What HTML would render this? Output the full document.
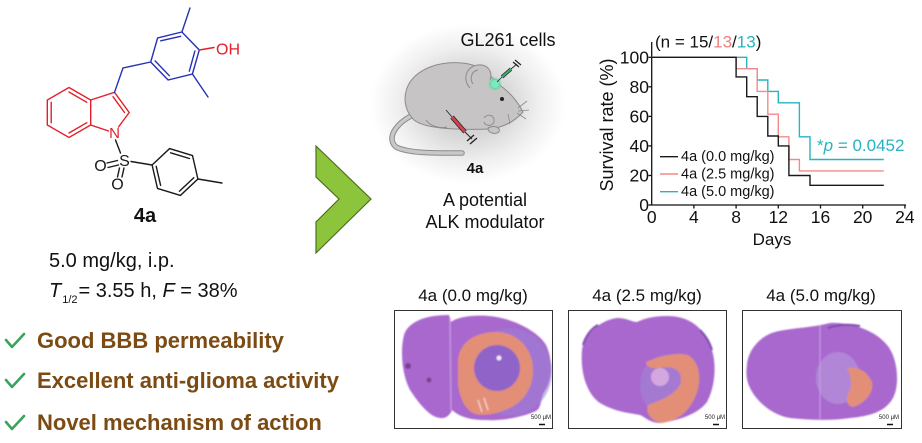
<!DOCTYPE html>
<html>
<head>
<meta charset="utf-8">
<style>
html,body{margin:0;padding:0;background:#fff;}
body{width:922px;height:443px;overflow:hidden;}
svg{display:block;}
text{font-family:"Liberation Sans",Arial,sans-serif;}
</style>
</head>
<body>
<svg width="922" height="443" viewBox="0 0 922 443" xmlns="http://www.w3.org/2000/svg">
<defs>
  <radialGradient id="glow" cx="50%" cy="50%" r="50%">
    <stop offset="0%" stop-color="#c4c4c4"/>
    <stop offset="40%" stop-color="#d6d6d6"/>
    <stop offset="72%" stop-color="#efefef"/>
    <stop offset="100%" stop-color="#ffffff"/>
  </radialGradient>
  <radialGradient id="gdot" cx="50%" cy="50%" r="50%">
    <stop offset="0%" stop-color="#c8ffe8"/>
    <stop offset="60%" stop-color="#5fd8a6"/>
    <stop offset="100%" stop-color="#5fd8a6" stop-opacity="0"/>
  </radialGradient>
  <filter id="soft" x="-10%" y="-10%" width="120%" height="120%">
    <feGaussianBlur stdDeviation="0.8"/>
  </filter>
</defs>

<!-- ================= Chemical structure ================= -->
<g stroke-width="1.4" stroke-linecap="round" fill="none">
  <g stroke="#E3202A">
    <polyline points="69,87.5 47.3,100 47.3,125 69,137.5 90.7,125 90.7,100 69,87.5"/>
    <line x1="51.2" y1="102.3" x2="51.2" y2="122.7"/>
    <line x1="86.8" y1="102.3" x2="69" y2="92"/>
    <line x1="69" y1="133" x2="86.8" y2="122.7"/>
    <polyline points="90.7,100 114.5,92.3 129.2,112.5 118.5,127"/>
    <line x1="90.7" y1="125" x2="108.5" y2="131"/>
    <line x1="113" y1="96.7" x2="124.5" y2="112.5"/>
  </g>
  <g stroke="#2632B4">
    <polyline points="114.5,92.3 123,68 150.7,62"/>
    <polygon points="150.7,62 157.6,38 181.9,32 199.3,50 192.4,74 168.1,80"/>
    <line x1="160.7" y1="40.8" x2="180.7" y2="36.3"/>
    <line x1="194.9" y1="51.1" x2="189.3" y2="71.2"/>
    <line x1="169.3" y1="75.7" x2="155.1" y2="60.9"/>
    <line x1="181.9" y1="32" x2="190" y2="8"/>
    <line x1="192.4" y1="74" x2="208" y2="97"/>
  </g>
  <line x1="199.3" y1="50" x2="214" y2="47.5" stroke="#E3202A"/>
  <g stroke="#1a1a1a">
    <line x1="115.5" y1="140" x2="120.5" y2="153"/>
    <line x1="107" y1="163" x2="117.5" y2="160.5"/>
    <line x1="108" y1="167.5" x2="118.5" y2="165"/>
    <line x1="119.5" y1="168" x2="117.5" y2="177"/>
    <line x1="124" y1="168" x2="122" y2="177"/>
    <line x1="131" y1="161.5" x2="152.1" y2="165"/>
    <polygon points="152.1,165 169.6,148.6 192.5,155.6 197.9,179 180.4,195.4 157.5,188.4"/>
    <line x1="170.6" y1="152.8" x2="189.4" y2="158.5"/>
    <line x1="193.8" y1="177.7" x2="179.4" y2="191.2"/>
    <line x1="160.6" y1="185.4" x2="156.2" y2="166.3"/>
    <line x1="197.9" y1="179" x2="222" y2="183"/>
  </g>
</g>
<text x="114.5" y="138" font-size="15" fill="#E3202A" text-anchor="middle">N</text>
<text x="216" y="54.5" font-size="16" fill="#E3202A">OH</text>
<text x="124.5" y="166" font-size="16" fill="#1a1a1a" text-anchor="middle">S</text>
<text x="100.5" y="171" font-size="16" fill="#1a1a1a" text-anchor="middle">O</text>
<text x="117.5" y="189.5" font-size="16" fill="#1a1a1a" text-anchor="middle">O</text>
<text x="145" y="222" font-size="20" font-weight="bold" fill="#111" text-anchor="middle">4a</text>

<!-- PK text -->
<text x="49" y="267" font-size="20" fill="#111">5.0 mg/kg, i.p.</text>
<text x="49" y="297" font-size="20" fill="#111"><tspan font-style="italic">T</tspan><tspan font-size="11" dy="6" dx="1">1/2</tspan><tspan dy="-6" dx="1">= 3.55 h, </tspan><tspan font-style="italic">F</tspan><tspan> = 38%</tspan></text>

<!-- bullets -->
<g stroke="#3AA35E" stroke-width="2.6" fill="none" stroke-linecap="round" stroke-linejoin="round">
  <polyline points="6,340 12,347 24,334"/>
  <polyline points="6,380 12,387 24,374"/>
  <polyline points="6,422 12,429 24,416"/>
</g>
<g font-size="22" font-weight="bold" fill="#7B4B13">
  <text x="37" y="348">Good BBB permeability</text>
  <text x="37" y="388">Excellent anti-glioma activity</text>
  <text x="37" y="430">Novel mechanism of action</text>
</g>

<!-- chevron -->
<polygon points="316,146 371,199 316,253 316,222 339,199 316,177" fill="#8CC43C" stroke="#4E6E1C" stroke-width="1.2"/>

<!-- ================= Mouse ================= -->
<ellipse cx="468" cy="104" rx="98" ry="80" fill="url(#glow)"/>
<text x="508" y="46" font-size="18" fill="#111" text-anchor="middle">GL261 cells</text>
<g stroke="#8c8a8a" stroke-width="1" stroke-linejoin="round">
  <path d="M411,116 C396,124 386,138 396,147 C410,154 440,153 462,153" fill="none" stroke="#8c8a8a" stroke-width="5.5" stroke-linecap="round"/>
  <path d="M411,116 C396,124 386,138 396,147 C410,154 440,153 462,153" fill="none" stroke="#c9c7c7" stroke-width="3.5" stroke-linecap="round"/>
  <path d="M523,112 C518,102 510,92 498,84 C490,74 478,64 462,63 C440,61 420,68 410,82 C402,95 404,110 414,120 C425,129 460,130 490,129 C505,127 516,120 523,112 Z" fill="#c6c4c4"/>
  <path d="M470,88 C462,80 466,66 478,65 C488,64 493,72 490,80" fill="#c6c4c4"/>
  <path d="M473,84 C469,78 472,71 478,70" fill="none"/>
  <path d="M426,120 C430,126 440,129 447,127" fill="none"/>
  <path d="M484,118 C488,113 495,115 494,122 C492,127 485,126 484,122" fill="#c6c4c4"/>
  <path d="M488,128 C494,125 501,127 499,132 C495,135 488,133 488,128" fill="#c6c4c4"/>
</g>
<g stroke="#8c8a8a" stroke-width="0.8">
  <line x1="518" y1="108" x2="527" y2="101"/>
  <line x1="518" y1="111" x2="529" y2="110"/>
  <line x1="517" y1="113" x2="526" y2="119"/>
  <line x1="508" y1="114" x2="510" y2="124"/>
</g>
<circle cx="502" cy="99" r="2" fill="#222"/>
<circle cx="495" cy="84" r="7" fill="url(#gdot)"/>
<circle cx="495" cy="84" r="4" fill="#7fe6bd"/>
<line x1="497" y1="82" x2="503" y2="76" stroke="#222" stroke-width="0.8"/>
<line x1="502" y1="77" x2="511" y2="69" stroke="#222" stroke-width="3.6"/>
<line x1="502" y1="77" x2="511" y2="69" stroke="#3DAA72" stroke-width="2.2"/>
<line x1="511" y1="69" x2="517" y2="64" stroke="#222" stroke-width="0.9"/>
<line x1="513" y1="62" x2="519" y2="67" stroke="#222" stroke-width="1.2"/>
<line x1="515" y1="60" x2="521" y2="65" stroke="#222" stroke-width="1.2"/>
<line x1="446" y1="110" x2="452" y2="117" stroke="#222" stroke-width="0.8"/>
<line x1="452" y1="117" x2="465" y2="132" stroke="#222" stroke-width="4.4"/>
<line x1="452" y1="117" x2="465" y2="132" stroke="#D0404F" stroke-width="3"/>
<line x1="465" y1="132" x2="472" y2="139" stroke="#222" stroke-width="1"/>
<line x1="467" y1="141" x2="474" y2="135" stroke="#222" stroke-width="1.3"/>
<line x1="470" y1="144" x2="477" y2="138" stroke="#222" stroke-width="1.3"/>
<text x="475" y="173" font-size="15" font-weight="bold" fill="#111" text-anchor="middle">4a</text>
<text x="485" y="206" font-size="18" fill="#111" text-anchor="middle">A potential</text>
<text x="485" y="228" font-size="18" fill="#111" text-anchor="middle">ALK modulator</text>

<!-- ================= Survival chart ================= -->
<g stroke="#111" stroke-width="1.3" fill="none">
  <line x1="651.7" y1="42" x2="651.7" y2="205"/>
  <line x1="651.7" y1="205" x2="906" y2="205"/>
  <line x1="648.5" y1="57.3" x2="651.7" y2="57.3"/>
  <line x1="648.5" y1="86.8" x2="651.7" y2="86.8"/>
  <line x1="648.5" y1="116.4" x2="651.7" y2="116.4"/>
  <line x1="648.5" y1="145.9" x2="651.7" y2="145.9"/>
  <line x1="648.5" y1="175.5" x2="651.7" y2="175.5"/>
  <line x1="648.5" y1="205" x2="651.7" y2="205"/>
  <line x1="693.9" y1="205" x2="693.9" y2="208.5"/>
  <line x1="736.1" y1="205" x2="736.1" y2="208.5"/>
  <line x1="778.3" y1="205" x2="778.3" y2="208.5"/>
  <line x1="820.5" y1="205" x2="820.5" y2="208.5"/>
  <line x1="862.7" y1="205" x2="862.7" y2="208.5"/>
  <line x1="904.9" y1="205" x2="904.9" y2="208.5"/>
</g>
<g font-size="17.5" fill="#111" text-anchor="end">
  <text x="649" y="63.5">100</text>
  <text x="649" y="93">80</text>
  <text x="649" y="122.6">60</text>
  <text x="649" y="152.1">40</text>
  <text x="649" y="181.7">20</text>
  <text x="649" y="211.2">0</text>
</g>
<g font-size="17.5" fill="#111" text-anchor="middle">
  <text x="651.7" y="223">0</text>
  <text x="693.9" y="223">4</text>
  <text x="736.1" y="223">8</text>
  <text x="778.3" y="223">12</text>
  <text x="820.5" y="223">16</text>
  <text x="862.7" y="223">20</text>
  <text x="904.9" y="223">24</text>
</g>
<text x="772" y="245" font-size="17" fill="#111" text-anchor="middle">Days</text>
<text transform="translate(613,125) rotate(-90)" font-size="18" fill="#111" text-anchor="middle">Survival rate (%)</text>
<text x="655" y="47.5" font-size="17" fill="#111">(n = 15/<tspan fill="#F08080">13</tspan>/<tspan fill="#27B3BF">13</tspan>)</text>
<text x="817" y="151" font-size="17" fill="#27B3BF">*<tspan font-style="italic">p</tspan> = 0.0452</text>

<g fill="none" stroke-width="1.4">
  <path d="M651.7,57.3 H746.7 V68.7 H757.2 V80 H767.8 V91.4 H778.3 V102.8 H799.4 V136.8 H810 V159.5 H883.8" stroke="#27B3BF"/>
  <path d="M651.7,57.3 H736.1 V68.7 H757.2 V91.4 H767.8 V114.2 H778.3 V136.8 H788.9 V159.5 H799.4 V170.9 H883.8" stroke="#F28A8A"/>
  <path d="M651.7,57.3 H736.1 V76.9 H746.7 V96.7 H757.2 V116.4 H767.8 V136 H778.3 V145.9 H788.9 V175.5 H810 V185.3 H883.8" stroke="#1a1a1a"/>
</g>
<line x1="660" y1="156.7" x2="678" y2="156.7" stroke="#1a1a1a" stroke-width="1.4"/>
<line x1="660" y1="174" x2="678" y2="174" stroke="#F28A8A" stroke-width="1.4"/>
<line x1="660" y1="191.7" x2="678" y2="191.7" stroke="#27B3BF" stroke-width="1.4"/>
<g font-size="14.5" fill="#111">
  <text x="681" y="161.2">4a (0.0 mg/kg)</text>
  <text x="681" y="178.5">4a (2.5 mg/kg)</text>
  <text x="681" y="196.2">4a (5.0 mg/kg)</text>
</g>

<!-- ================= Brain sections ================= -->
<g font-size="17" fill="#111" text-anchor="middle">
  <text x="473" y="301">4a (0.0 mg/kg)</text>
  <text x="647" y="301">4a (2.5 mg/kg)</text>
  <text x="821" y="301">4a (5.0 mg/kg)</text>
</g>
<g fill="#fff" stroke="#333" stroke-width="1">
  <rect x="394.5" y="310.5" width="158" height="118"/>
  <rect x="568.5" y="310.5" width="158" height="118"/>
  <rect x="742.5" y="310.5" width="159" height="118"/>
</g>

<!-- brain 1 -->
<g filter="url(#soft)">
  <path d="M404,335 C408,322 425,315 449,315 L451,322 C460,315 485,314 501,318 C520,322 540,334 546,345 C553,360 553,380 544,392 C540,400 542,407 536,411 C520,418 500,421 487,420 C475,420 462,419 452,410 C450,415 446,419 440,418 C430,417 420,405 410,390 C402,375 400,350 404,335 Z" fill="#A868CE"/>
  <ellipse cx="510" cy="372" rx="42" ry="44" fill="#9A80D6" opacity="0.55"/>
  <path d="M458,360 C460,340 478,332 496,332 C518,332 534,350 533,372 C532,392 520,405 505,410 C495,414 485,416 475,414 C465,410 460,398 458,385 Z" fill="#E38F78"/>
  <circle cx="497" cy="368" r="23" fill="#9064C8"/>
  <circle cx="499" cy="358" r="2.5" fill="#f3e6f6"/>
  <line x1="450" y1="318" x2="451" y2="410" stroke="#C79EE0" stroke-width="1.2"/>
  <circle cx="408" cy="366" r="3" fill="#7B3F90"/>
  <circle cx="429" cy="380" r="2.5" fill="#7B3F90"/>
  <path d="M478,400 L482,412 M484,398 L488,410" stroke="#f6d8d0" stroke-width="1.2"/>
</g>
<text x="541" y="419" font-size="6" fill="#222" text-anchor="middle">500 μM</text>
<line x1="539" y1="424.5" x2="545" y2="424.5" stroke="#111" stroke-width="1.5"/>

<!-- brain 2 -->
<g filter="url(#soft)">
  <path d="M582,350 C584,335 600,320 617,318 C627,318 632,322 637,322 C645,318 655,316 667,316 C690,316 703,328 710,345 C717,360 716,385 707,402 C698,414 680,420 660,423 C650,423 645,417 640,415 C630,413 615,412 600,403 C588,395 580,375 582,350 Z" fill="#A868CE"/>
  <ellipse cx="666" cy="385" rx="26" ry="30" fill="#A08AD6" opacity="0.5"/>
  <path d="M646,362 C660,356 675,352 688,355 C700,362 702,380 696,395 C690,410 680,420 662,423 C652,422 645,413 648,405 C660,400 672,397 680,385 C684,372 676,365 660,368 C652,369 646,367 646,362 Z" fill="#E38F78"/>
  <circle cx="660" cy="377" r="9" fill="#D4A8DE"/>
  <path d="M583,345 C586,335 592,328 598,325" stroke="#7E4AAE" stroke-width="2" fill="none"/>
  <path d="M700,330 C706,336 710,343 712,350" stroke="#7E4AAE" stroke-width="2" fill="none"/>
</g>
<text x="715" y="419" font-size="6" fill="#222" text-anchor="middle">500 μM</text>
<line x1="713" y1="424.5" x2="719" y2="424.5" stroke="#111" stroke-width="1.5"/>

<!-- brain 3 -->
<g filter="url(#soft)">
  <path d="M747,365 C748,350 760,336 775,332 C790,328 810,328 830,323 C850,322 875,330 887,345 C898,358 900,385 893,398 C885,412 870,416 850,418 C830,421 810,420 790,418 C772,415 757,402 750,388 C746,380 746,372 747,365 Z" fill="#A868CE"/>
  <ellipse cx="838" cy="378" rx="22" ry="26" fill="#B89EDE" opacity="0.55"/>
  <line x1="820" y1="325" x2="820" y2="419" stroke="#C79EE0" stroke-width="1"/>
  <path d="M847,368 C858,366 868,372 872,382 C874,392 866,403 853,407 C847,406 845,400 849,392 C853,385 851,376 847,368 Z" fill="#E38F78"/>
  <path d="M828,328 C840,324 850,324 860,326" stroke="#7E4AAE" stroke-width="2" fill="none"/>
</g>
<text x="889" y="419" font-size="6" fill="#222" text-anchor="middle">500 μM</text>
<line x1="887" y1="424.5" x2="893" y2="424.5" stroke="#111" stroke-width="1.5"/>
</svg>
</body>
</html>
